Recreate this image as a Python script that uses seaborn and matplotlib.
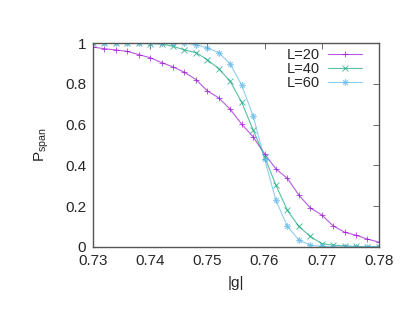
import numpy as np
import pandas as pd
import matplotlib
matplotlib.use("Agg")
import matplotlib.pyplot as plt
import seaborn as sns

g = np.round(np.arange(0.730, 0.7801, 0.002), 3)
p_L20 = [0.980, 0.972, 0.966, 0.959, 0.943, 0.928, 0.904, 0.883, 0.856, 0.821,
         0.765, 0.731, 0.675, 0.602, 0.540, 0.457, 0.382, 0.336, 0.254, 0.191,
         0.157, 0.103, 0.072, 0.057, 0.038, 0.023]
p_L40 = [1.0, 1.0, 1.0, 1.0, 0.998, 0.997, 0.995, 0.984, 0.966, 0.953,
         0.918, 0.874, 0.812, 0.710, 0.574, 0.442, 0.302, 0.179, 0.100, 0.051,
         0.016, 0.008, 0.005, 0.002, 0.0, 0.0]
p_L60 = [1.0, 1.0, 1.0, 1.0, 1.0, 1.0, 1.0, 1.0, 1.0, 0.992,
         0.976, 0.953, 0.897, 0.794, 0.643, 0.432, 0.228, 0.100, 0.034, 0.008,
         0.003, 0.0, 0.0, 0.0, 0.0, 0.0]
labels = ["L=20", "L=40", "L=60"]

sns.set_style("white")
plt.rcParams['font.family'] = ['Liberation Sans', 'DejaVu Sans']

fig = plt.figure(figsize=(4.15, 3.21), dpi=100)
ax = fig.add_axes([0.224, 0.231, 0.689, 0.635])

colors = ["#9400d3", "#009e73", "#56b4e9"]
markers = ["+", "x", (8, 2, 0)]
for vals, lab, c, m in zip([p_L20, p_L40, p_L60], labels, colors, markers):
    df = pd.DataFrame({"g": g, "p": vals})
    sns.lineplot(data=df, x="g", y="p", ax=ax, color=c, marker=m, markersize=4.5,
                 markeredgewidth=0.7, markeredgecolor=c, linewidth=0.8,
                 label=lab, alpha=0.65)

ax.set_xlim(0.73, 0.78)
ax.set_ylim(0, 1)
ax.set_xticks([0.73, 0.74, 0.75, 0.76, 0.77, 0.78])
ax.set_xticklabels(["0.73", "0.74", "0.75", "0.76", "0.77", "0.78"])
ax.set_yticks([0, 0.2, 0.4, 0.6, 0.8, 1])
ax.set_yticklabels(["0", "0.2", "0.4", "0.6", "0.8", "1"])
ax.tick_params(direction="in", length=4, width=0.6, color="#555555",
               labelsize=11, top=True, right=True, pad=5)
for s in ax.spines.values():
    s.set_color("#555555")
    s.set_linewidth(1.0)
ax.set_xlabel("|g|", fontsize=11, labelpad=6)
ax.set_ylabel(r"P$_{\mathregular{span}}$", fontsize=11, labelpad=10)

leg = ax.legend(loc="upper right", bbox_to_anchor=(0.94, 0.975), frameon=False,
                markerfirst=False, fontsize=10.5, handlelength=2.3,
                labelspacing=0.0, borderaxespad=0.0, borderpad=0.0,
                handletextpad=0.6)

fig.savefig("out.png", dpi=100)
